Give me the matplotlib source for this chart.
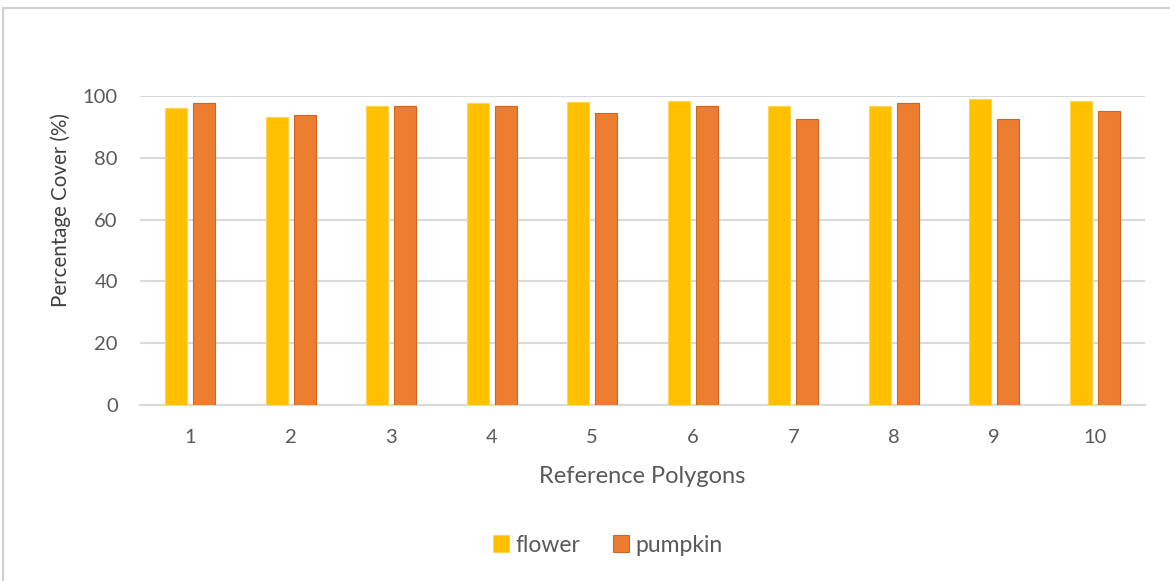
import matplotlib
matplotlib.use("Agg")
import matplotlib.pyplot as plt
import numpy as np
from matplotlib.patches import Rectangle

categories = ["1", "2", "3", "4", "5", "6", "7", "8", "9", "10"]
flower = [96.0, 93.1, 96.9, 97.6, 98.1, 98.5, 96.9, 96.9, 98.9, 98.5]
pumpkin = [97.6, 93.9, 96.9, 96.9, 94.4, 96.9, 92.7, 97.6, 92.7, 95.1]
y_ticks = [0, 20, 40, 60, 80, 100]

plt.rcParams["font.family"] = ["Lato", "DejaVu Sans"]
text_color = "#595959"

fig = plt.figure(figsize=(11.7, 5.81), dpi=100)
W, H = 1170, 581
ax = fig.add_axes([140 / W, 1 - 405 / H, 1005 / W, (405 - 96) / H])

x = np.arange(len(categories))
bw = 0.22
off = 0.14
ax.bar(x - off, flower, bw, color="#FFC000", edgecolor="#FFD54F", linewidth=0.8,
       label="flower", zorder=3)
ax.bar(x + off, pumpkin, bw, color="#ED7D31", edgecolor="#D0651F", linewidth=0.8,
       label="pumpkin", zorder=3)

ax.set_xlim(-0.5, len(categories) - 0.5)
ax.set_ylim(0, 100)
ax.set_yticks(y_ticks)
ax.set_xticks(x)
ax.set_xticklabels(categories)
ax.yaxis.grid(True, color="#D9D9D9", linewidth=1.5, zorder=0)
ax.set_axisbelow(True)
for s in ["top", "right", "left"]:
    ax.spines[s].set_visible(False)
ax.spines["bottom"].set_color("#D9D9D9")
ax.spines["bottom"].set_linewidth(1.5)
ax.tick_params(axis="both", length=0, labelsize=14.5, colors=text_color)
ax.tick_params(axis="x", pad=17)
ax.tick_params(axis="y", pad=16)

ax.set_xlabel("Reference Polygons", fontsize=17, color=text_color, labelpad=15)
ax.set_ylabel("Percentage Cover (%)", fontsize=14.8, color="#404040", va="center")
ax.yaxis.set_label_coords(-0.0786, 0.631)

fig.legend(loc="center", bbox_to_anchor=(608 / W, 1 - 545 / H), ncol=2, frameon=False,
           fontsize=16.5, handlelength=0.7, handleheight=0.7, handletextpad=0.3,
           columnspacing=1.4, labelcolor=text_color)

# outer chart border
fig.patches.append(Rectangle((3 / W, -0.01), 1.2, 1 - 8 / H + 0.01,
                             transform=fig.transFigure, fill=False,
                             edgecolor="#D0D0D0", linewidth=1.5))

fig.savefig("out.png", dpi=100, facecolor="white")
